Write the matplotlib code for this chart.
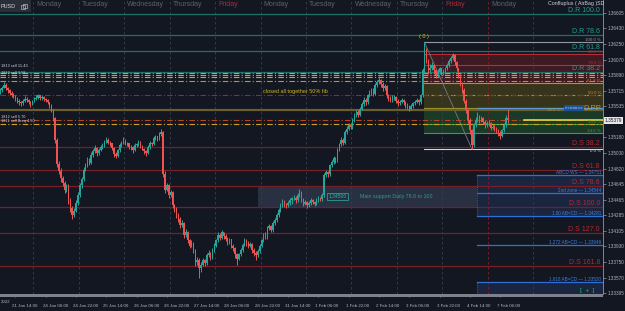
import numpy as np
import matplotlib.pyplot as plt
from matplotlib.patches import Rectangle
from matplotlib.transforms import blended_transform_factory, ScaledTranslation

plt.rcParams['font.family'] = ['Liberation Sans', 'DejaVu Sans']

# hourly GBPUSD candles
closes = [
    1.3572, 1.3575, 1.3578, 1.3574, 1.3572, 1.3569, 1.3567, 1.3565, 1.3563, 1.3560,
    1.3558, 1.3557, 1.3560, 1.3562, 1.3561, 1.3558, 1.3556, 1.3560, 1.3562, 1.3563,
    1.3566, 1.3563, 1.3564, 1.3562, 1.3561, 1.3558, 1.3554, 1.3549, 1.3540, 1.3515,
    1.3488, 1.3480, 1.3471, 1.3466, 1.3458, 1.3462, 1.3446, 1.3437, 1.3429, 1.3434,
    1.3443, 1.3452, 1.3463, 1.3470, 1.3481, 1.3486, 1.3492, 1.3489, 1.3498, 1.3502,
    1.3506, 1.3500, 1.3504, 1.3507, 1.3509, 1.3513, 1.3515, 1.3512, 1.3511, 1.3506,
    1.3499, 1.3497, 1.3503, 1.3509, 1.3512, 1.3515, 1.3511, 1.3511, 1.3507,
    1.3507, 1.3503, 1.3509, 1.3510, 1.3513, 1.3508, 1.3505, 1.3502, 1.3500, 1.3507,
    1.3512, 1.3510, 1.3517, 1.3519, 1.3516, 1.3522, 1.3524, 1.3476, 1.3458, 1.3463,
    1.3452, 1.3455, 1.3440, 1.3436, 1.3429, 1.3425, 1.3417, 1.3420, 1.3406, 1.3410,
    1.3400, 1.3394, 1.3397, 1.3389, 1.3375, 1.3378, 1.3368, 1.3372, 1.3377, 1.3374,
    1.3383, 1.3386, 1.3381, 1.3389, 1.3394, 1.3400, 1.3406, 1.3403, 1.3409, 1.3405,
    1.3402, 1.3398, 1.3401, 1.3394, 1.3391, 1.3384, 1.3379, 1.3384, 1.3389, 1.3395,
    1.3400, 1.3397, 1.3394, 1.3396, 1.3389, 1.3386, 1.3383, 1.3388, 1.3394, 1.3400,
    1.3406, 1.3404, 1.3414, 1.3416, 1.3412, 1.3420, 1.3423, 1.3429, 1.3435, 1.3440,
    1.3444, 1.3441, 1.3440, 1.3443, 1.3446,
    1.3448, 1.3449, 1.3446, 1.3452,
    1.3455, 1.3447, 1.3442, 1.3444, 1.3440, 1.3443, 1.3446, 1.3444, 1.3442, 1.3446,
    1.3449, 1.3447, 1.3452, 1.3475, 1.3478, 1.3476, 1.3486, 1.3490, 1.3494, 1.3492,
    1.3504, 1.3510, 1.3515, 1.3512, 1.3524, 1.3528, 1.3532, 1.3530, 1.3538, 1.3543,
    1.3547, 1.3544, 1.3551, 1.3556, 1.3561, 1.3558, 1.3566, 1.3569, 1.3572, 1.3568,
    1.3578, 1.3581, 1.3584, 1.3579, 1.3574, 1.3577, 1.3566, 1.3563, 1.3561, 1.3564,
    1.3564, 1.3560, 1.3557, 1.3559, 1.3561, 1.3558, 1.3555, 1.3553, 1.3551, 1.3554,
    1.3557, 1.3559, 1.3561, 1.3558, 1.3566, 1.3595, 1.3618, 1.3606, 1.3595, 1.3598,
    1.3601, 1.3595, 1.3589, 1.3593, 1.3597, 1.3592, 1.3593, 1.3597, 1.3601, 1.3605,
    1.3609, 1.3612, 1.3604, 1.3597, 1.3589, 1.3580, 1.3572, 1.3560, 1.3549, 1.3538,
    1.3526, 1.3509, 1.3532, 1.3538, 1.3543, 1.3538, 1.3540, 1.3536, 1.3532, 1.3534,
    1.3535, 1.3529, 1.3530, 1.3528, 1.3526, 1.3523, 1.3520, 1.3526, 1.3532, 1.3540,
    1.3538,
]
highs = [
    1.3575, 1.3577, 1.3581, 1.3580, 1.3576, 1.3573, 1.3571, 1.3569, 1.3567, 1.3564,
    1.3562, 1.3560, 1.3562, 1.3565, 1.3564, 1.3562, 1.3560, 1.3561, 1.3564, 1.3566,
    1.3568, 1.3567, 1.3566, 1.3565, 1.3563, 1.3562, 1.3559, 1.3556, 1.3550, 1.3541,
    1.3517, 1.3491, 1.3483, 1.3474, 1.3468, 1.3465, 1.3464, 1.3448, 1.3439, 1.3437,
    1.3446, 1.3455, 1.3466, 1.3473, 1.3484, 1.3489, 1.3495, 1.3494, 1.3501, 1.3505,
    1.3509, 1.3507, 1.3506, 1.3509, 1.3512, 1.3515, 1.3518, 1.3517, 1.3514, 1.3512,
    1.3507, 1.3501, 1.3505, 1.3511, 1.3514, 1.3518, 1.3516, 1.3513, 1.3512,
    1.3509, 1.3508, 1.3511, 1.3512, 1.3515, 1.3514, 1.3509, 1.3506, 1.3503, 1.3509,
    1.3514, 1.3513, 1.3519, 1.3521, 1.3520, 1.3524, 1.3527, 1.3525, 1.3479, 1.3466,
    1.3464, 1.3458, 1.3456, 1.3442, 1.3438, 1.3431, 1.3427, 1.3423, 1.3421, 1.3413,
    1.3411, 1.3402, 1.3400, 1.3398, 1.3390, 1.3381, 1.3380, 1.3375, 1.3380, 1.3379,
    1.3385, 1.3389, 1.3387, 1.3391, 1.3397, 1.3402, 1.3409, 1.3408, 1.3412, 1.3410,
    1.3407, 1.3404, 1.3403, 1.3402, 1.3396, 1.3392, 1.3386, 1.3386, 1.3391, 1.3397,
    1.3403, 1.3402, 1.3399, 1.3398, 1.3397, 1.3391, 1.3388, 1.3390, 1.3396, 1.3402,
    1.3408, 1.3409, 1.3416, 1.3419, 1.3417, 1.3422, 1.3426, 1.3431, 1.3437, 1.3443,
    1.3447, 1.3446, 1.3443, 1.3445, 1.3448,
    1.3450, 1.3452, 1.3451, 1.3454,
    1.3459, 1.3456, 1.3448, 1.3446, 1.3445, 1.3445, 1.3448, 1.3447, 1.3445, 1.3448,
    1.3451, 1.3450, 1.3454, 1.3477, 1.3481, 1.3480, 1.3488, 1.3492, 1.3497, 1.3496,
    1.3506, 1.3512, 1.3518, 1.3517, 1.3526, 1.3531, 1.3535, 1.3534, 1.3540, 1.3546,
    1.3549, 1.3549, 1.3553, 1.3558, 1.3564, 1.3563, 1.3568, 1.3572, 1.3575, 1.3574,
    1.3580, 1.3584, 1.3588, 1.3585, 1.3581, 1.3579, 1.3578, 1.3568, 1.3565, 1.3566,
    1.3567, 1.3565, 1.3562, 1.3561, 1.3563, 1.3562, 1.3560, 1.3557, 1.3555, 1.3556,
    1.3559, 1.3561, 1.3563, 1.3562, 1.3568, 1.3598, 1.3627, 1.3620, 1.3608, 1.3602,
    1.3604, 1.3602, 1.3596, 1.3596, 1.3599, 1.3598, 1.3596, 1.3599, 1.3603, 1.3608,
    1.3611, 1.3615, 1.3613, 1.3606, 1.3598, 1.3591, 1.3582, 1.3574, 1.3562, 1.3551,
    1.3540, 1.3528, 1.3534, 1.3541, 1.3547, 1.3544, 1.3543, 1.3541, 1.3538, 1.3537,
    1.3538, 1.3536, 1.3533, 1.3532, 1.3530, 1.3528, 1.3525, 1.3528, 1.3535, 1.3544,
    1.3550,
]
lows = [
    1.3568, 1.3570, 1.3574, 1.3572, 1.3569, 1.3567, 1.3564, 1.3563, 1.3560, 1.3557,
    1.3555, 1.3554, 1.3555, 1.3559, 1.3558, 1.3556, 1.3553, 1.3555, 1.3559, 1.3561,
    1.3562, 1.3561, 1.3561, 1.3560, 1.3559, 1.3556, 1.3552, 1.3547, 1.3537, 1.3511,
    1.3484, 1.3476, 1.3467, 1.3462, 1.3454, 1.3455, 1.3442, 1.3433, 1.3424, 1.3427,
    1.3432, 1.3441, 1.3450, 1.3460, 1.3468, 1.3479, 1.3484, 1.3486, 1.3487, 1.3496,
    1.3500, 1.3497, 1.3498, 1.3502, 1.3505, 1.3507, 1.3511, 1.3510, 1.3508, 1.3503,
    1.3496, 1.3494, 1.3495, 1.3501, 1.3507, 1.3510, 1.3509, 1.3508, 1.3505,
    1.3504, 1.3500, 1.3502, 1.3507, 1.3508, 1.3506, 1.3503, 1.3499, 1.3497, 1.3499,
    1.3505, 1.3508, 1.3509, 1.3515, 1.3514, 1.3515, 1.3520, 1.3472, 1.3454, 1.3456,
    1.3449, 1.3450, 1.3437, 1.3433, 1.3426, 1.3421, 1.3414, 1.3415, 1.3403, 1.3404,
    1.3397, 1.3391, 1.3392, 1.3385, 1.3371, 1.3372, 1.3357, 1.3364, 1.3370, 1.3371,
    1.3372, 1.3381, 1.3378, 1.3379, 1.3387, 1.3392, 1.3398, 1.3400, 1.3401, 1.3402,
    1.3399, 1.3395, 1.3396, 1.3391, 1.3388, 1.3380, 1.3372, 1.3377, 1.3382, 1.3387,
    1.3393, 1.3394, 1.3391, 1.3392, 1.3386, 1.3382, 1.3377, 1.3381, 1.3386, 1.3392,
    1.3398, 1.3401, 1.3402, 1.3412, 1.3409, 1.3410, 1.3418, 1.3421, 1.3427, 1.3433,
    1.3438, 1.3438, 1.3437, 1.3438, 1.3441,
    1.3442, 1.3446, 1.3443, 1.3444,
    1.3450, 1.3444, 1.3439, 1.3440, 1.3437, 1.3438, 1.3441, 1.3442, 1.3439, 1.3440,
    1.3444, 1.3445, 1.3445, 1.3450, 1.3473, 1.3473, 1.3474, 1.3484, 1.3488, 1.3489,
    1.3490, 1.3502, 1.3508, 1.3509, 1.3510, 1.3522, 1.3526, 1.3527, 1.3528, 1.3536,
    1.3541, 1.3541, 1.3542, 1.3549, 1.3554, 1.3555, 1.3556, 1.3564, 1.3567, 1.3565,
    1.3566, 1.3576, 1.3579, 1.3576, 1.3571, 1.3572, 1.3563, 1.3560, 1.3558, 1.3559,
    1.3561, 1.3557, 1.3554, 1.3555, 1.3557, 1.3555, 1.3552, 1.3550, 1.3548, 1.3549,
    1.3552, 1.3555, 1.3557, 1.3555, 1.3556, 1.3564, 1.3592, 1.3603, 1.3591, 1.3593,
    1.3595, 1.3592, 1.3586, 1.3587, 1.3591, 1.3589, 1.3590, 1.3591, 1.3595, 1.3599,
    1.3603, 1.3607, 1.3601, 1.3594, 1.3586, 1.3577, 1.3569, 1.3557, 1.3546, 1.3534,
    1.3522, 1.3505, 1.3507, 1.3530, 1.3536, 1.3535, 1.3536, 1.3533, 1.3529, 1.3530,
    1.3531, 1.3526, 1.3527, 1.3525, 1.3523, 1.3520, 1.3516, 1.3518, 1.3524, 1.3530,
    1.3535,
]
first_open = 1.3570
last_price = 1.35379

day_names = ['Monday', 'Tuesday', 'Wednesday', 'Thursday', 'Friday',
             'Monday', 'Tuesday', 'Wednesday', 'Thursday', 'Friday', 'Monday']
time_labels = ['21 Jan 14:00', '24 Jan 06:00', '24 Jan 22:00', '25 Jan 14:00', '26 Jan 06:00',
               '26 Jan 22:00', '27 Jan 14:00', '28 Jan 06:00', '28 Jan 22:00', '31 Jan 14:00',
               '1 Feb 06:00', '1 Feb 22:00', '2 Feb 14:00', '3 Feb 06:00', '3 Feb 22:00',
               '4 Feb 14:00', '7 Feb 06:00']
price_ticks = [1.36605, 1.36430, 1.36250, 1.36070, 1.35890, 1.35715, 1.35535, 1.35180, 1.35000,
               1.34820, 1.34645, 1.34465, 1.34285, 1.34105, 1.33930, 1.33750, 1.33570, 1.33395]

dr_levels = [1.36594, 1.36353, 1.36164, 1.35929]
dr_names = ['D.R 100.0', 'D.R 78.6', 'D.R 61.8', 'D.R 38.2']
ds_levels = [1.35070, 1.34806, 1.34622, 1.34382, 1.34084, 1.33706]
ds_names = ['D.S 38.2', 'D.S 61.8', 'D.S 78.6', 'D.S 100.0', 'D.S 127.0', 'D.S 161.8']

fib_ratios = [1.0, 0.886, 0.786, 0.618, 0.5, 0.382, 0.236, 0.146, 0.0]
fib_top, fib_bottom = 1.3627, 1.3505
fib_start, fib_end = 224, 249

abcd_levels = [1.34751, 1.34544, 1.34281, 1.33949, 1.33520]
abcd_names = ['ABCD WS', '2nd zone', '1.00 AB=CD', '1.272 AB=CD', '1.618 AB=CD']

order_levels = [1.35923, 1.35900, 1.35866, 1.35826, 1.35660, 1.35379, 1.35333]
order_colors = ['#c9a227', '#b8a43a', '#d4a21e', '#d98a1e', '#a3232c', '#b8452a', '#c9a227']

support_low, support_high = 1.34382, 1.34622
pivot_level = 1.35516

bg = '#131722'
up_col, down_col = '#26a69a', '#ef5350'
teal_line, teal_text = '#1b7068', '#249c8e'
red_line, red_text = '#7a1e25', '#b5292f'
blue_line = '#2f6fd6'

fig = plt.figure(figsize=(6.25, 3.11), dpi=100, facecolor=bg)
ax = fig.add_axes([0, 17 / 311, 603 / 625, 294 / 311])
ax.set_facecolor(bg)
ax.set_xlim(-0.1, 318.3)
ax.set_ylim(1.333848, 1.36754)
xr = 318.3
yx = blended_transform_factory(ax.transAxes, ax.transData)

# day separators
for k, name in enumerate(day_names):
    sx = 17.5 + 24 * k
    monday = name == 'Monday'
    ax.axvline(sx, color='#8b1c24' if monday else '#3a3e4a', lw=0.6,
               ls=(0, (3, 3)), zorder=1.2)
    ax.text(sx + 1.6, 0.983, name, transform=blended_transform_factory(ax.transData, ax.transAxes),
            fontsize=5, color='#b22833' if name == 'Friday' else '#5d606b', va='center')
ax.axvline(17.5 + 24 * 11, color='#3a3e4a', lw=0.6, ls=(0, (3, 3)), zorder=1.2)

# support box and ABCD boxes
ax.add_patch(Rectangle((136.2, support_low), xr, support_high - support_low,
                       color='#283042', lw=0, zorder=1))
ax.add_patch(Rectangle((251.8, abcd_levels[2]), xr, abcd_levels[0] - abcd_levels[2],
                       color='#1a2540', lw=0, zorder=1.1))
ax.add_patch(Rectangle((251.8, 1.3330), xr, abcd_levels[4] - 1.3330,
                       color='#1a2540', lw=0, zorder=1.1))

# fib zones
fib_prices = [fib_bottom + r * (fib_top - fib_bottom) for r in fib_ratios]
zone_cols = [None, '#3e1a22', '#3e1a22', '#36351c', '#36351c', '#1a3a27', '#1a3a27', None]
for j, zc in enumerate(zone_cols):
    if zc:
        ax.add_patch(Rectangle((fib_start, fib_prices[j + 1]), xr, fib_prices[j] - fib_prices[j + 1],
                               color=zc, lw=0, zorder=1))
fib_cols = ['#9598a1', '#b3303a', '#b3303a', '#d9822b', '#d9822b', '#9a9a30', '#3f9a48', '#3f9a48', '#d1d4dc']
fib_ls = ['-', '-', '-', '-', (0, (4, 2)), '-', '-', '-', '-']
for fp, fc, ls, r in zip(fib_prices, fib_cols, fib_ls, fib_ratios):
    ax.plot([fib_start, xr], [fp, fp], color=fc, lw=0.8, ls=ls, zorder=2)
    if r == 0.382:
        # sits behind the D.PP tag in the screenshot
        ax.text(0.93, fp, f'{r * 100:.1f} %', transform=yx, ha='right', va='top',
                fontsize=3.2, color=fc, zorder=5)
    elif r == 0.0:
        ax.text(0.997, fp, f'{r * 100:.1f} %', transform=yx, ha='right', va='top',
                fontsize=3.2, color=fc, zorder=5)
    else:
        ax.text(0.997, fp, f'{r * 100:.1f} %', transform=yx, ha='right', va='bottom',
                fontsize=3.2, color=fc, zorder=5)
ax.plot([fib_start, fib_end], [fib_top, fib_bottom], color='#787b86', lw=0.6, zorder=2)
ax.text(fib_start, fib_top + 0.0004, '( 0 )', ha='center', va='bottom', fontsize=4,
        color='#d4c21e', zorder=5)

# daily resistance / support levels
for lv, nm in zip(dr_levels, dr_names):
    ax.axhline(lv, color=teal_line, lw=0.9, zorder=2)
    ax.text(0.995, lv + 0.00004, nm, transform=yx, ha='right', va='bottom',
            fontsize=5, color=teal_text, zorder=5)
for lv, nm in zip(ds_levels, ds_names):
    ax.axhline(lv, color=red_line, lw=0.9, zorder=2)
    ax.text(0.995, lv + 0.00004, nm, transform=yx, ha='right', va='bottom',
            fontsize=5, color=red_text, zorder=5)

# pending order lines
for lv, oc in zip(order_levels, order_colors):
    ax.axhline(lv, color=oc, lw=0.8, ls=(0, (5, 2, 1, 2)), zorder=2.1)
ax.axhline(1.35488, color='#6b5e2e', lw=1.6, zorder=2)
ax.text(0.3, 1.3597, '1813 sell 11.43', fontsize=2.8, color='#d1d4dc', va='bottom', zorder=5)
ax.text(0.3, 1.3590, '1812 sell 3.58', fontsize=2.8, color='#d1d4dc', va='bottom', zorder=5)
ax.text(0.3, 1.3539, '1812 sell 5.70', fontsize=2.8, color='#d1d4dc', va='bottom', zorder=5)
ax.text(0.3, 1.3534, '1811 sell Breq 4.50', fontsize=2.8, color='#d1d4dc', va='bottom', zorder=5)
ax.text(138.9, 1.3571, 'closed all together 50% fib', fontsize=4, color='#c9b41e',
        va='center', zorder=5)

# ABCD lines
for lv, nm in zip(abcd_levels, abcd_names):
    ax.plot([251.8, xr], [lv, lv], color=blue_line, lw=0.9, zorder=2.2)
    ax.text(0.997, lv + 0.00003, f'{nm} \u2014 {lv:.5f}', transform=yx, ha='right', va='bottom',
            fontsize=3.3, color='#3d7fe0', zorder=5)
ax.plot([251.8, 251.8], [abcd_levels[2], abcd_levels[0]], color=blue_line, lw=0.6, ls=':', zorder=2.2)
ax.plot([251.8, 251.8], [1.3330, abcd_levels[4]], color=blue_line, lw=0.6, ls=':', zorder=2.2)
ax.text(0.985, 1.33425, '[  +  ]', transform=yx, ha='right', va='center', fontsize=4.5,
        color='#22c55e', zorder=5)

# pivot / resistance line
ax.plot([251.8, xr], [pivot_level, pivot_level], color='#5b9bd5', lw=0.9, zorder=2.2)
ax.text(0.968, pivot_level, 'resistance', transform=yx, ha='right', va='center', fontsize=3,
        color='#9cc3f0', zorder=5, bbox=dict(boxstyle='square,pad=0.15', fc='#1d4f91', ec='none'))
ax.text(0.997, pivot_level, 'D.PP', transform=yx, ha='right', va='center', fontsize=5.5,
        color='#c8962a', zorder=5)

# main support label
ax.text(173.2, 1.3450, '1.34500', fontsize=3.6, color='#2fb3a2', va='center', zorder=5,
        bbox=dict(boxstyle='square,pad=0.25', fc='none', ec='#2fb3a2', lw=0.5))
ax.text(190, 1.3450, 'Main support Daily 78.6 to 100', fontsize=3.8, color='#2a9d8f',
        va='center', zorder=5)

# current price line
ax.plot([276.7, xr], [last_price, last_price], color='#e6d73a', lw=1.2, zorder=2.3)

# candles
c = np.array(closes)
o = np.concatenate([[first_open], c[:-1]])
h = np.maximum(np.array(highs), np.maximum(o, c))
lo = np.minimum(np.array(lows), np.minimum(o, c))
x = np.arange(len(c))
cols = np.where(c >= o, up_col, down_col)
ax.vlines(x, lo, h, colors=cols, lw=0.7, zorder=3)
body = np.maximum(np.abs(c - o), 0.00004)
ax.bar(x, body, bottom=np.minimum(o, c), width=0.72, color=cols, lw=0, zorder=3.1)

# axes styling
for s in ['top', 'left', 'bottom']:
    ax.spines[s].set_visible(False)
ax.spines['right'].set_color('#9598a1')
ax.spines['right'].set_linewidth(0.6)
ax.yaxis.tick_right()
ax.set_yticks(price_ticks)
ax.set_yticklabels([f'{p:.5f}' for p in price_ticks])
ax.tick_params(axis='y', length=2, width=0.5, colors='#9598a1', labelsize=3.3, pad=1.5,
               labelcolor='#b2b5be')
ax.set_xticks([8 + 16 * k for k in range(len(time_labels))])
ax.set_xticklabels(time_labels)
ax.tick_params(axis='x', length=2, width=0.5, colors='#9598a1', labelsize=3.2, pad=5.5,
               labelcolor='#b2b5be')
for lbl in ax.get_xticklabels():
    lbl.set_ha('left')
    lbl.set_transform(lbl.get_transform() + ScaledTranslation(-3 / 100, 0, fig.dpi_scale_trans))

# bottom scrollbar, header boxes and current price tag
fig.patches.append(Rectangle((0, 14 / 311), 603 / 625, 3 / 311, transform=fig.transFigure,
                             color='#7e818b', lw=0))
fig.patches.append(Rectangle((0, 1 - 12 / 311), 31 / 625, 12 / 311, transform=fig.transFigure,
                             color='#2a2e39', lw=0))
fig.text(0.5 / 625, 1 - 6 / 311, 'PUSD', fontsize=4, color='#d1d4dc', va='center')
# window icon as two small squares
fig.patches.append(Rectangle((21 / 625, 1 - 9 / 311), 4 / 625, 4 / 311, transform=fig.transFigure,
                             fill=False, ec='#b2b5be', lw=0.5))
fig.patches.append(Rectangle((22.5 / 625, 1 - 7.5 / 311), 4 / 625, 4 / 311, transform=fig.transFigure,
                             fill=False, ec='#b2b5be', lw=0.5))
fig.text(604 / 625, 1 - 4 / 311, 'Confluplus ( AirBag )SD', fontsize=3.8, color='#d1d4dc',
         ha='right', va='center')
fig.text(0.5 / 625, 9 / 311, '2022', fontsize=3.2, color='#b2b5be', ha='left', va='center')
fig.text(605 / 625, 1 - 120.5 / 311, f'{last_price:.5f}', fontsize=3.4, color='#131722',
         va='center', bbox=dict(boxstyle='square,pad=0.2', fc='#e6e6e6', ec='none'))

fig.savefig('out.png', dpi=100, facecolor=bg)
